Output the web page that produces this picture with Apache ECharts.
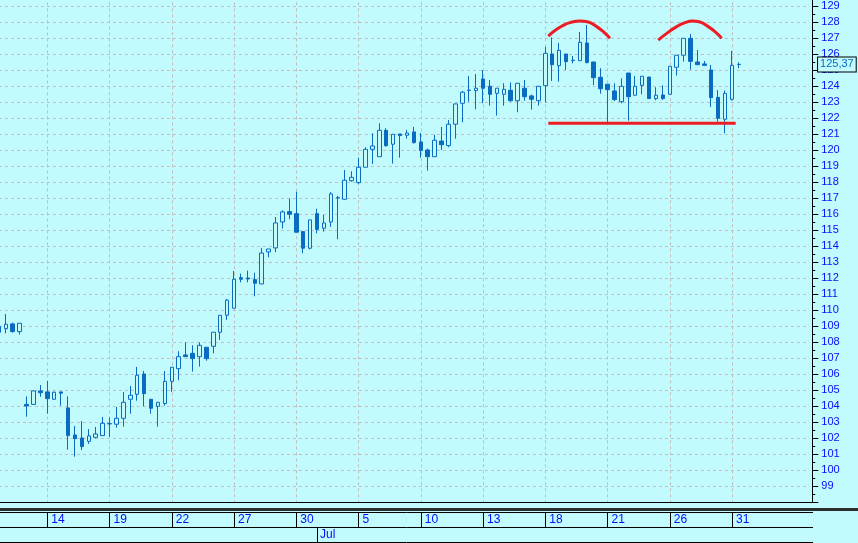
<!DOCTYPE html>
<html><head><meta charset="utf-8">
<script src="https://cdn.jsdelivr.net/npm/echarts@6/dist/echarts.min.js"></script>
<style>html,body{margin:0;padding:0;background:#c1fbfe;}#c{width:858px;height:543px;}</style>
</head><body><div id="c"></div>
<script>
const opens = [108.63,108.85,109.15,108.67,104.12,104.12,104.96,104.9,104.44,104.9,
103.9,102.21,102.02,101.81,102.06,102.17,102.9,102.88,103.25,104.44,
104.75,106.02,104.44,104.0,104.17,105.56,106.35,107.21,107.31,107.1,
107.69,107.75,108.63,109.69,110.13,112.04,112.02,111.92,111.65,113.65,
113.9,115.52,116.17,116.04,114.92,113.88,116.04,115.13,115.52,117.04,
116.94,118.1,117.98,118.94,120.06,119.6,121.25,120.38,121.02,120.94,
121.15,120.52,120.02,119.6,120.58,120.29,121.63,122.94,123.74,123.73,
124.46,124.0,123.56,123.5,123.75,123.1,123.88,123.4,123.1,124.04,
126.02,125.29,126.02,125.63,125.6,126.71,125.52,124.56,124.13,123.71,
123.04,124.83,123.44,124.06,124.58,123.23,123.46,123.5,125.19,125.94,
127.0,125.52,125.4,125.02,123.31,121.94,123.19,125.36];
const closes = [109.0,109.13,108.67,109.19,104.02,104.96,104.85,104.48,104.88,104.82,
102.17,101.98,101.48,102.15,102.27,102.94,102.92,103.25,104.25,104.69,
105.94,104.79,103.88,104.25,105.56,106.44,107.1,107.1,106.98,107.81,
106.98,108.63,109.69,110.63,111.94,111.94,111.96,111.69,113.58,113.83,
115.46,116.15,116.0,114.88,113.88,115.65,115.06,115.46,117.27,117.02,
118.13,118.31,118.94,120.06,120.27,121.25,120.29,121.0,120.92,121.08,
120.48,119.98,119.6,120.63,120.35,121.63,122.9,123.63,123.76,123.88,
123.88,123.5,123.88,123.81,123.1,124.19,123.35,123.19,124.0,126.06,
125.35,126.25,125.54,125.62,126.75,125.48,124.54,123.85,123.79,123.17,
124.0,123.35,124.0,124.63,123.23,123.44,123.23,125.25,125.94,127.0,
125.56,125.35,125.31,123.29,122.0,123.56,125.31,125.37];
const lows = [108.6,108.56,108.6,108.48,103.35,104.1,104.6,103.54,104.4,104.04,
101.29,100.85,101.27,101.65,102.0,102.17,102.08,102.67,102.73,103.54,
104.35,104.0,103.54,102.73,104.04,104.9,105.63,107.08,106.17,106.48,
106.85,107.31,108.15,109.4,110.13,111.75,111.75,110.88,111.65,113.31,
113.63,115.1,115.69,114.88,113.56,113.81,114.81,114.92,115.21,114.44,
116.92,118.04,117.88,118.94,119.15,119.6,120.23,119.17,119.54,120.73,
120.42,119.54,118.73,119.6,120.02,120.19,120.73,121.75,123.04,122.56,
122.94,122.79,122.17,122.79,123.04,122.38,123.1,122.54,122.79,123.0,
124.33,124.29,125.02,125.44,125.6,125.44,124.08,123.54,121.77,123.08,
122.94,121.85,123.44,123.5,123.23,123.13,123.15,123.5,124.67,125.54,
125.04,125.35,125.29,122.71,121.79,121.06,123.1,125.13];
const highs = [109.02,109.77,109.23,109.19,104.62,105.0,105.33,105.58,104.92,104.9,
104.62,102.77,103.08,102.58,102.71,103.33,103.29,103.96,104.9,105.27,
106.46,106.21,104.44,104.25,106.21,106.44,107.44,108.0,107.81,108.0,
107.69,108.63,109.69,110.71,112.46,112.29,112.48,112.35,113.9,113.83,
115.83,116.25,116.98,117.42,114.92,115.65,116.35,115.96,117.4,117.15,
118.77,118.69,119.54,120.19,121.06,121.69,121.38,121.0,121.02,121.27,
121.46,121.08,120.1,120.96,121.46,121.9,122.9,123.71,124.65,124.77,
125.02,124.4,123.88,124.19,124.25,124.19,124.4,123.48,124.0,126.46,
127.06,126.71,126.02,125.9,127.4,127.83,125.52,125.13,124.13,124.19,
124.5,124.83,124.65,124.63,124.58,123.94,124.06,125.25,125.94,127.0,
127.27,126.27,125.58,125.33,123.77,123.73,126.21,125.5];

const padBars = 10;
const categories = Array.from({length: opens.length + padBars}, (_, i) => 'bar' + i);
const dayTickIndex = [7,16,25,34,43,52,61,70,79,88,97,106];
const dayTickLabels = ['14','19','22','27','30','5','10','13','18','21','26','31'];
const monthTickIndex = [46];
const monthTickLabels = ['Jul'];

// hand-drawn annotations (bar index, price)
const leftArc = [[79.44,127.14],[80.65,127.56],[81.61,127.81],[82.58,127.98],[84.02,128.08],[85.22,128.02],[86.44,127.73],[87.39,127.41],[88.36,127.0]];
const rightArc = [[95.34,126.89],[96.56,127.31],[98.0,127.73],[99.2,127.98],[100.26,128.08],[101.37,128.02],[102.57,127.73],[103.54,127.41],[104.51,127.0]];
const neckline = [[79.44,121.69],[106.53,121.69]];

const lastClose = closes[closes.length - 1];
const candleData = opens.map((o, i) => [o, closes[i], lows[i], highs[i]]);

const BG = '#c1fbfe';
const BLUE = '#0a6cc0';
const TXT = '#0a0aff';
const GRIDC = '#c4bcbc';
const GL = -1.1, GW = 809.17;

const dayLabel = (idx) => { const k = dayTickIndex.indexOf(idx); return k < 0 ? '' : dayTickLabels[k]; };
const monLabel = (idx) => { const k = monthTickIndex.indexOf(idx); return k < 0 ? '' : monthTickLabels[k]; };

const chart = echarts.init(document.getElementById('c'), null, {renderer: 'canvas'});
chart.setOption({
  animation: false,
  backgroundColor: BG,
  grid: [
    {left: GL, top: -9.7, width: GW, height: 512, outerBoundsMode: 'none', containLabel: false},
    {left: GL, top: 513, width: GW, height: 14.5, outerBoundsMode: 'none', containLabel: false},
    {left: GL, top: 527.5, width: GW, height: 15, outerBoundsMode: 'none', containLabel: false}
  ],
  xAxis: [
    {type: 'category', gridIndex: 0, data: categories, boundaryGap: false,
     axisLine: {show: true, onZero: false, lineStyle: {color: '#000', width: 1}},
     axisTick: {show: false}, axisLabel: {show: false},
     splitLine: {show: true, interval: (i) => dayTickIndex.includes(i), lineStyle: {color: GRIDC, type: [3, 3], width: 1}}},
    {type: 'category', gridIndex: 1, data: categories, boundaryGap: false,
     axisLine: {show: false, onZero: false}, axisTick: {show: false},
     axisLabel: {show: true, interval: (i) => dayTickIndex.includes(i), formatter: (v, i) => dayLabel(i),
       color: TXT, fontSize: 12, fontFamily: 'Liberation Sans', align: 'left', verticalAlign: 'middle',
       padding: [0, 0, 0, 4], margin: -7.5},
     splitLine: {show: true, interval: (i) => dayTickIndex.includes(i), lineStyle: {color: '#000', width: 1, type: 'solid'}}},
    {type: 'category', gridIndex: 2, data: categories, boundaryGap: false,
     axisLine: {show: false, onZero: false}, axisTick: {show: false},
     axisLabel: {show: true, interval: (i) => monthTickIndex.includes(i), formatter: (v, i) => monLabel(i),
       color: TXT, fontSize: 12, fontFamily: 'Liberation Sans', align: 'left', verticalAlign: 'middle',
       padding: [0, 0, 0, 3], margin: -7.5},
     splitLine: {show: true, interval: (i) => monthTickIndex.includes(i), lineStyle: {color: '#000', width: 1, type: 'solid'}}},
    {type: 'value', gridIndex: 0, min: 0, max: categories.length - 1, show: false}
  ],
  yAxis: [
    {type: 'value', gridIndex: 0, position: 'right', offset: 4.2, min: 98, max: 130, interval: 1,
     axisLine: {show: true, onZero: false, lineStyle: {color: '#000', width: 1}},
     axisTick: {show: true, length: 6, lineStyle: {color: '#000'}},
     minorTick: {show: true, splitNumber: 2, length: 3, lineStyle: {color: '#000'}},
     axisLabel: {color: TXT, fontSize: 11, fontFamily: 'Liberation Sans', margin: 9, showMinLabel: false, showMaxLabel: false},
     splitLine: {show: true, lineStyle: {color: GRIDC, type: [3, 3], width: 1}},
     minorSplitLine: {show: false}},
    {type: 'value', gridIndex: 1, show: false},
    {type: 'value', gridIndex: 2, show: false}
  ],
  graphic: [
    {type: 'line', silent: true, z: 10, shape: {x1: 0, y1: 502.5, x2: 813, y2: 502.5}, style: {stroke: '#000', lineWidth: 1}},
    {type: 'rect', silent: true, z: 10, shape: {x: 0, y: 508, width: 858, height: 3}, style: {fill: '#2e2e2e'}},
    {type: 'line', silent: true, z: 10, shape: {x1: 0, y1: 512.5, x2: 813, y2: 512.5}, style: {stroke: '#000', lineWidth: 1}},
    {type: 'line', silent: true, z: 10, shape: {x1: 0, y1: 527.5, x2: 813, y2: 527.5}, style: {stroke: '#000', lineWidth: 1}},
    {type: 'line', silent: true, z: 10, shape: {x1: 0, y1: 542.5, x2: 813, y2: 542.5}, style: {stroke: '#000', lineWidth: 1}}
  ],
  series: [
    {type: 'candlestick', xAxisIndex: 0, yAxisIndex: 0, data: candleData, barWidth: 4, clip: false,
     itemStyle: {color: BG, color0: BLUE, borderColor: BLUE, borderColor0: BLUE, borderWidth: 1},
     markLine: {silent: true, symbol: ['none', 'none'], animation: false,
       lineStyle: {color: 'rgba(0,0,0,0)', width: 0.01, opacity: 1},
       label: {show: true, position: 'end', distance: 10, opacity: 1,
         formatter: (p) => Number(p.value).toFixed(2).replace('.', ','),
         color: BLUE, fontSize: 11, fontFamily: 'Liberation Sans', lineHeight: 12,
         backgroundColor: BG, borderColor: '#000', borderWidth: 1, padding: [1, 2, 1, 2]},
       data: [{yAxis: lastClose}]}},
    {type: 'line', xAxisIndex: 3, yAxisIndex: 0, data: leftArc, smooth: true, symbol: 'none', silent: true, z: 5,
     lineStyle: {color: '#ee1c24', width: 3}},
    {type: 'line', xAxisIndex: 3, yAxisIndex: 0, data: rightArc, smooth: true, symbol: 'none', silent: true, z: 5,
     lineStyle: {color: '#ee1c24', width: 3}},
    {type: 'line', xAxisIndex: 3, yAxisIndex: 0, data: neckline, symbol: 'none', silent: true, z: 5,
     lineStyle: {color: '#ee1c24', width: 3}}
  ]
});
</script></body></html>
